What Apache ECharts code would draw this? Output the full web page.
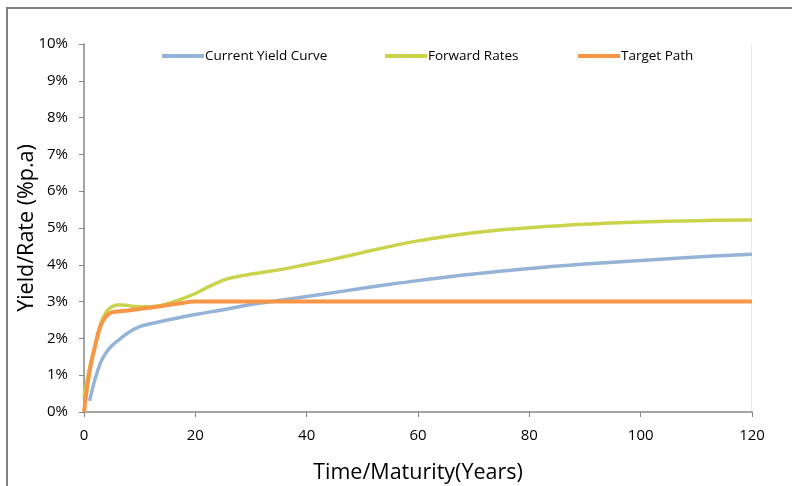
<!DOCTYPE html>
<html>
<head>
<meta charset="utf-8">
<script src="https://cdn.jsdelivr.net/npm/echarts@6/dist/echarts.min.js"></script>
<style>
html,body{margin:0;padding:0;background:#fff;}
#chart{width:792px;height:486px;}
</style>
</head>
<body>
<div id="chart"></div>
<script>
// Data (years, yield/rate in % p.a.)
const seriesNames = ['Current Yield Curve', 'Forward Rates', 'Target Path'];
const yieldYears = [1, 2, 3, 4, 5, 6, 8, 10, 12, 15, 20, 25, 30, 35, 40, 45, 50, 55, 60, 70, 80, 90, 100, 110, 120];
const yieldValues = [0.30, 0.90, 1.35, 1.62, 1.80, 1.93, 2.16, 2.32, 2.40, 2.50, 2.65, 2.78, 2.92, 3.03, 3.14, 3.25, 3.36, 3.47, 3.57, 3.75, 3.90, 4.02, 4.12, 4.21, 4.29];
const forwardYears = [0, 1, 2, 3, 4, 5, 6, 7, 9, 12, 14, 17, 20, 23, 26, 29, 32, 36, 40, 45, 50, 55, 60, 65, 70, 75, 80, 90, 100, 110, 120];
const forwardValues = [0.40, 1.20, 1.80, 2.40, 2.72, 2.86, 2.91, 2.91, 2.87, 2.86, 2.90, 3.04, 3.22, 3.45, 3.63, 3.72, 3.79, 3.89, 4.01, 4.16, 4.33, 4.50, 4.65, 4.77, 4.87, 4.95, 5.01, 5.10, 5.16, 5.20, 5.22];
const targetYears = [0, 1, 2, 3, 4, 5, 6, 8, 11, 14, 17, 20, 30, 40, 60, 80, 100, 120];
const targetValues = [0.00, 1.10, 1.80, 2.35, 2.60, 2.71, 2.73, 2.76, 2.82, 2.88, 2.95, 3.00, 3.00, 3.00, 3.00, 3.00, 3.00, 3.00];
const xTicks = [0, 20, 40, 60, 80, 100, 120];
const yTicks = [0, 1, 2, 3, 4, 5, 6, 7, 8, 9, 10];

const colors = ['#95B3D7', '#CBD34C', '#F79646'];
const font = "'Open Sans', sans-serif";
const legendLefts = [162, 385, 578];

function pairs(xs, ys) { return xs.map((x, i) => [x, ys[i]]); }

const chart = echarts.init(document.getElementById('chart'), null, {renderer: 'canvas'});
chart.setOption({
  animation: false,
  backgroundColor: '#fff',
  color: colors,
  graphic: [
    {type: 'rect', shape: {x: 7, y: 8, width: 800, height: 500}, style: {fill: 'none', stroke: '#808080', lineWidth: 2}, silent: true, z: -1},
    {type: 'line', shape: {x1: 751.5, y1: 44, x2: 751.5, y2: 412}, style: {stroke: '#EEEAE0', lineWidth: 1}, silent: true}
  ],
  legend: seriesNames.map((n, i) => ({
    top: 49,
    left: legendLefts[i],
    padding: 0,
    itemWidth: 42,
    itemHeight: 4,
    icon: 'rect',
    textStyle: {fontFamily: font, fontSize: 13.5, color: '#000', padding: [0, 0, 0, -4]},
    data: [n]
  })),
  grid: {left: 84, right: 40, top: 44, bottom: 74, containLabel: false, outerBoundsMode: 'none'},
  xAxis: {
    type: 'value',
    min: 0, max: 120, interval: 20,
    name: 'Time/Maturity(Years)',
    nameLocation: 'middle',
    nameGap: 50,
    nameMoveOverlap: false,
    nameTextStyle: {fontFamily: font, fontSize: 21.5, color: '#000'},
    axisLine: {onZero: false, lineStyle: {color: '#868686', width: 1.5}},
    axisTick: {show: true, length: 5, lineStyle: {color: '#868686'}},
    axisLabel: {fontFamily: font, fontSize: 15, color: '#000', margin: 16},
    splitLine: {show: false}
  },
  yAxis: {
    type: 'value',
    min: 0, max: 10, interval: 1,
    name: 'Yield/Rate (%p.a)',
    nameLocation: 'middle',
    nameGap: 46,
    nameMoveOverlap: false,
    nameTextStyle: {fontFamily: font, fontSize: 21.5, color: '#000'},
    axisLine: {show: true, lineStyle: {color: '#868686', width: 1.5}},
    axisTick: {show: true, length: 5, lineStyle: {color: '#868686'}},
    axisLabel: {fontFamily: font, fontSize: 15, color: '#000', margin: 16, formatter: v => yTicks.includes(v) ? v + '%' : ''},
    splitLine: {show: false}
  },
  series: [
    {name: seriesNames[0], type: 'line', smooth: 0.4, showSymbol: false, data: pairs(yieldYears, yieldValues), lineStyle: {width: 3.5, color: colors[0]}, itemStyle: {color: colors[0]}, z: 2},
    {name: seriesNames[1], type: 'line', smooth: 0.4, showSymbol: false, data: pairs(forwardYears, forwardValues), lineStyle: {width: 3.5, color: colors[1]}, itemStyle: {color: colors[1]}, z: 3},
    {name: seriesNames[2], type: 'line', smooth: 0.4, showSymbol: false, data: pairs(targetYears, targetValues), lineStyle: {width: 4, color: colors[2]}, itemStyle: {color: colors[2]}, z: 4}
  ]
});
</script>
</body>
</html>
